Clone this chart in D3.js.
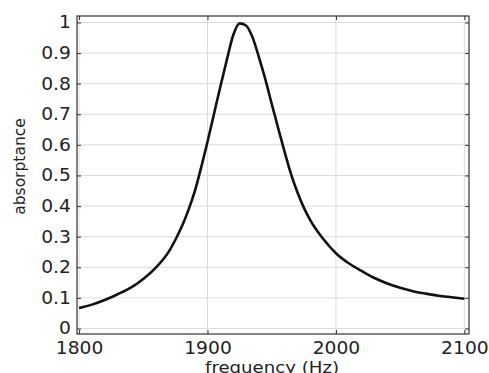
<!DOCTYPE html>
<html>
<head>
<meta charset="utf-8">
<script src="https://cdn.jsdelivr.net/npm/d3@7"></script>
<style>
  body { margin: 0; background: #fff; }
  text { font-family: "DejaVu Sans", sans-serif; fill: #222; }
</style>
</head>
<body>
<script>
// data
var freq = [1800, 1810, 1820, 1830, 1840, 1850, 1860, 1870, 1875, 1880, 1885, 1890, 1895, 1900, 1905, 1910, 1915, 1920, 1925,
            1930, 1935, 1940, 1945, 1950, 1955, 1960, 1965, 1970, 1975, 1980, 1990, 2000, 2010, 2020, 2030, 2040,
            2050, 2060, 2070, 2080, 2090, 2100];
var absorptance = [0.067, 0.078, 0.093, 0.112, 0.133, 0.162, 0.200, 0.252, 0.29, 0.333, 0.385, 0.447, 0.525, 0.61, 0.70, 0.79, 0.877, 0.958, 0.997,
                   0.99, 0.952, 0.887, 0.815, 0.734, 0.655, 0.578, 0.505, 0.445, 0.395, 0.354, 0.293, 0.246, 0.213, 0.188, 0.165, 0.147,
                   0.133, 0.122, 0.114, 0.107, 0.102, 0.097];
var xTicks = [1800, 1900, 2000, 2100];
var yTicks = [0, 0.1, 0.2, 0.3, 0.4, 0.5, 0.6, 0.7, 0.8, 0.9, 1];

var margin = {top: 16, right: 20, bottom: 39, left: 77},
    width = 489 - margin.left - margin.right,
    height = 373 - margin.top - margin.bottom;

var x = d3.scaleLinear().domain([1798.4, 2103.6]).range([0, width]);
var y = d3.scaleLinear().domain([-0.018, 1.021]).range([height, 0]);

var svg = d3.select("body").append("svg")
    .attr("width", 489)
    .attr("height", 373)
  .append("g")
    .attr("transform", "translate(" + margin.left + "," + margin.top + ")");

// grid
svg.append("g").selectAll("line").data(xTicks).enter().append("line")
    .attr("x1", function(d) { return x(d); }).attr("x2", function(d) { return x(d); })
    .attr("y1", 0).attr("y2", height)
    .attr("stroke", "#dcdcdc").attr("stroke-width", 1);
svg.append("g").selectAll("line").data(yTicks).enter().append("line")
    .attr("y1", function(d) { return y(d); }).attr("y2", function(d) { return y(d); })
    .attr("x1", 0).attr("x2", width)
    .attr("stroke", "#dcdcdc").attr("stroke-width", 1);

// axes with inward ticks
svg.append("g")
    .attr("transform", "translate(0," + height + ")")
    .call(d3.axisBottom(x).tickValues(xTicks).tickFormat(d3.format("d")).tickSizeInner(-4).tickSizeOuter(0).tickPadding(8));
svg.append("g")
    .call(d3.axisLeft(y).tickValues(yTicks).tickFormat(function(d) { return d === 0 ? "0" : d === 1 ? "1" : d3.format(".1f")(d); })
      .tickSizeInner(-4).tickSizeOuter(0).tickPadding(5.5));
svg.append("g")
    .call(d3.axisTop(x).tickValues(xTicks).tickFormat("").tickSizeInner(-4).tickSizeOuter(0));
svg.append("g")
    .attr("transform", "translate(" + width + ",0)")
    .call(d3.axisRight(y).tickValues(yTicks).tickFormat("").tickSizeInner(-4).tickSizeOuter(0));

svg.selectAll(".domain").remove();
svg.selectAll(".tick line").attr("stroke", "#333");
svg.selectAll(".tick text")
    .style("font-size", "17px")
    .style("fill", "#222")
    .attr("transform", "scale(1.1,1)");

// frame
svg.append("rect")
    .attr("width", width).attr("height", height)
    .attr("fill", "none").attr("stroke", "#333").attr("stroke-width", 1.2);

// curve
var line = d3.line()
    .x(function(d, i) { return x(freq[i]); })
    .y(function(d) { return y(d); })
    .curve(d3.curveMonotoneX);
svg.append("path")
    .datum(absorptance)
    .attr("d", line)
    .attr("fill", "none")
    .attr("stroke", "#111")
    .attr("stroke-width", 2.6);

// labels
svg.append("text")
    .attr("transform", "rotate(-90)")
    .attr("x", -150.5)
    .attr("y", -52)
    .style("text-anchor", "middle")
    .style("font-size", "15.5px")
    .text("absorptance");

svg.append("text")
    .attr("transform", "translate(" + (272 - margin.left) + "," + (373 - margin.top) + ") scale(1.1,1)")
    .style("text-anchor", "middle")
    .style("font-size", "16.5px")
    .text("frequency (Hz)");
</script>
</body>
</html>
